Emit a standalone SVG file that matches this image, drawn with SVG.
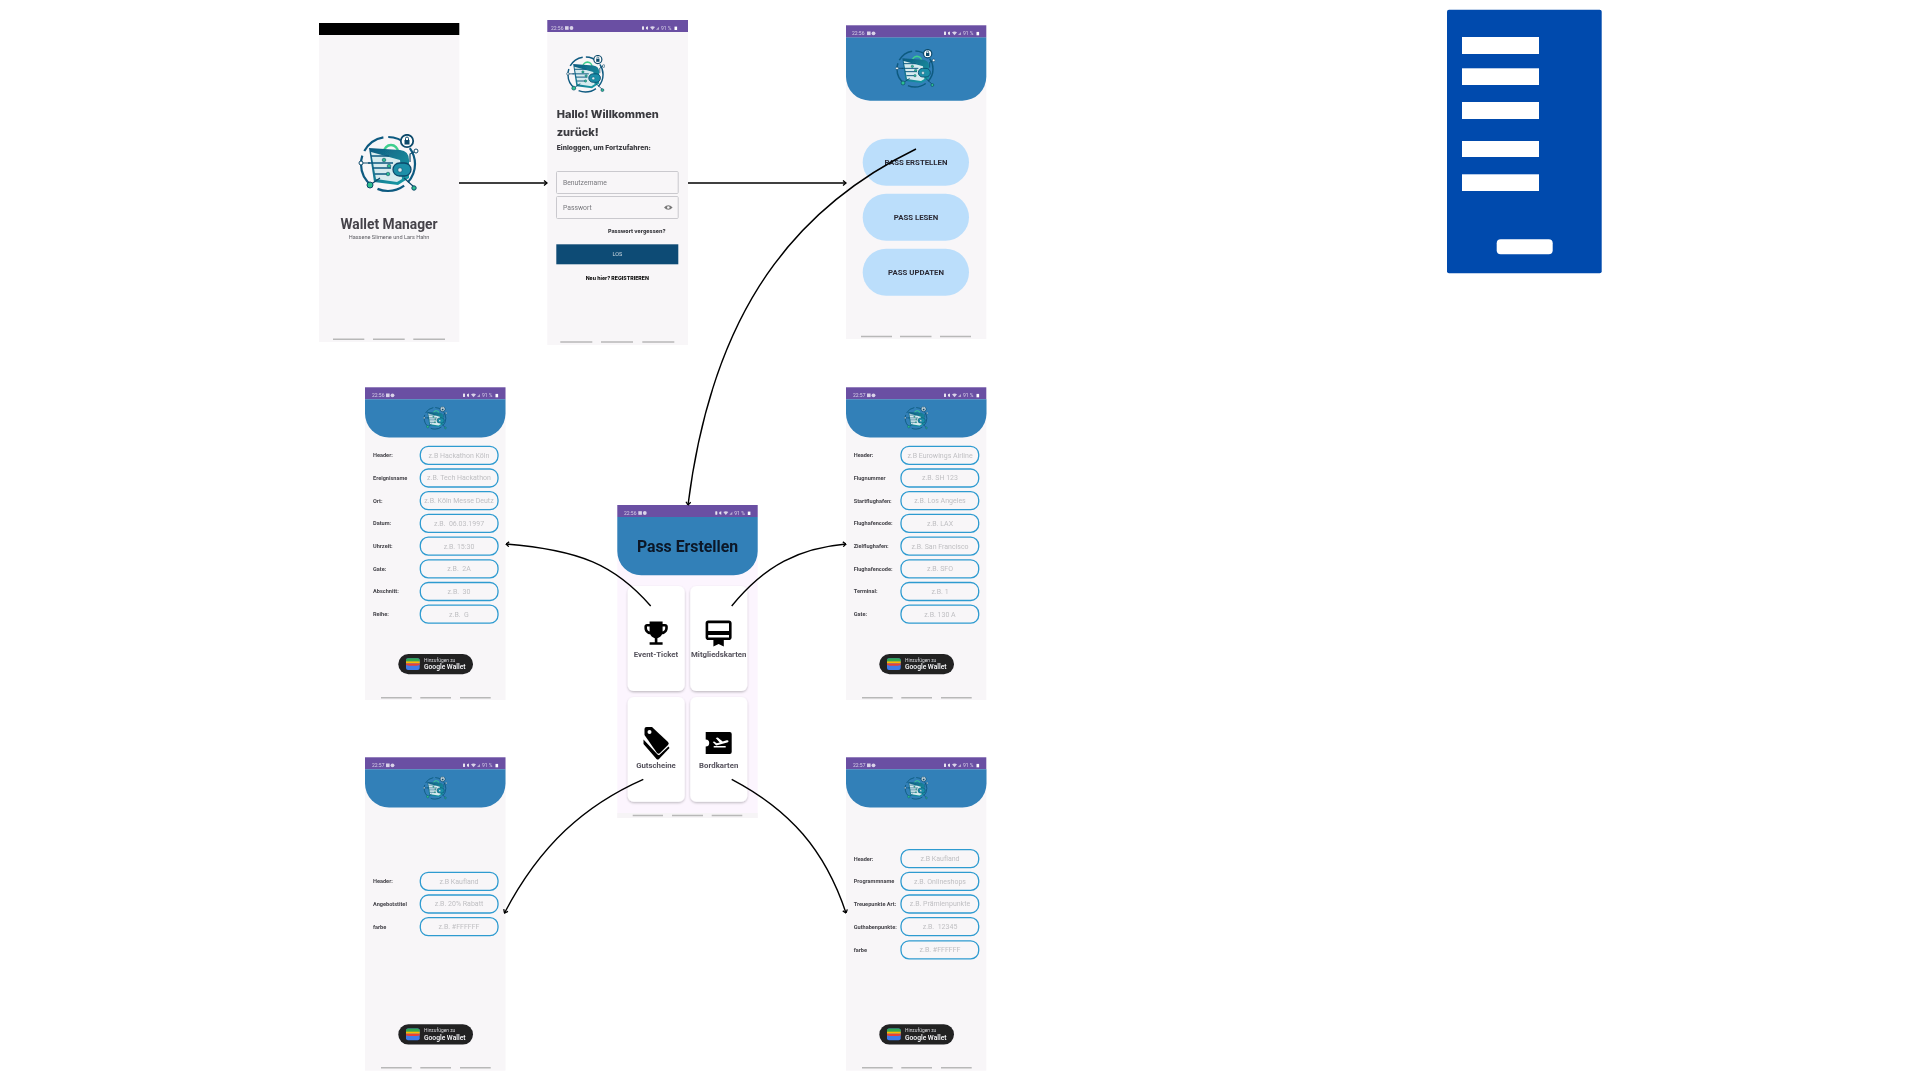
<svg xmlns="http://www.w3.org/2000/svg" xmlns:xlink="http://www.w3.org/1999/xlink" width="1920" height="1080" viewBox="0 0 1920 1080">
<style>
text{font-family:Roboto,"Liberation Sans",sans-serif}
.soft{filter:url(#soft)}
.bg{fill:#f8f6f8}
.nav{stroke:#b8b8b8;stroke-width:1.5;fill:none}
.bar{fill:#6a4fa3}
.hd{fill:#3180b8}
.st{font-size:5px;fill:#d9d2e8}
.inp{fill:#f8f6f8;stroke:#2e9bd0;stroke-width:1.3}
.ph{font-size:7px;fill:#bfbfc2;text-anchor:middle}
.lb{font-size:5.6px;font-weight:700;fill:#45444a}
.btn{fill:#bbdefb}
.bt{font-size:7.800px;font-weight:700;fill:#2b2b36;text-anchor:middle}
.head{font-family:Inter,Roboto,sans-serif;font-weight:800;fill:#3a3a3f}
.card{fill:#fff;filter:url(#sh)}
.cl{font-size:7.800px;font-weight:700;fill:#55525c;text-anchor:middle}
.wf{fill:#fff}
.field{fill:#f8f6f8;stroke:#c4c4c8;stroke-width:.9}
.con{fill:none;stroke:#000;stroke-width:1.4;marker-end:url(#arr)}
</style>
<defs>
<filter id="soft" x="-2%" y="-2%" width="104%" height="104%"><feGaussianBlur stdDeviation=".35"/></filter>
<filter id="sh" x="-20%" y="-20%" width="140%" height="140%"><feDropShadow dx="0" dy="1.2" stdDeviation="1.2" flood-color="#000" flood-opacity=".25"/></filter>
<marker id="arr" viewBox="0 0 6 6" refX="5.500" refY="3" markerWidth="6" markerHeight="6" markerUnits="userSpaceOnUse" orient="auto"><path d="M2.500 .6 L5.500 3 L2.500 5.400" fill="none" stroke="#000" stroke-width="1.300"/></marker>
<linearGradient id="teal" x1="0" y1="0" x2="1" y2="1"><stop offset="0" stop-color="#0f5a80"/><stop offset="1" stop-color="#18a0a8"/></linearGradient>
<symbol id="logo" viewBox="0 0 60 60">
<circle cx="30" cy="30" r="27" fill="none" stroke="#0f5a80" stroke-width="2.200" stroke-dasharray="20 5 28 6 34 5 24 5"/>
<path d="M26 18 a7 7 0 0 1 14 0" fill="none" stroke="#3ecf8e" stroke-width="2.400"/>
<path d="M11 14 L42 16 Q51 17 51 26 L51 44 L40 51 L16 48 Z" fill="url(#teal)"/>
<path d="M13 18 L42 26 L44 45 L39 48 L18 45 Z" fill="#d6ebee"/>
<path d="M13 22 H31 M10 29 H35 M15 34 H33 M17 40 H31" stroke="#0d5a80" stroke-width="1.500" fill="none"/>
<rect x="35" y="29" width="18" height="13" rx="6.500" fill="#1a8fa8" stroke="#0d4a6b" stroke-width="1.300"/>
<circle cx="42" cy="36" r="2.200" fill="#d6ebee" stroke="#0d4a6b" stroke-width=".6"/>
<circle cx="49" cy="7" r="6.200" fill="#fff" stroke="#0d4a6b" stroke-width="1.800"/>
<rect x="46.500" y="6" width="5" height="4.500" fill="#0d4a6b"/>
<path d="M47.500 6 V4.500 a1.500 1.500 0 0 1 3 0 V6" fill="none" stroke="#0d4a6b"/>
<path d="M3 29 H12 M12 51 L22 44 M56 53 L46 44 M58 17 L52 20 V28" stroke="#0d4a6b" stroke-width="1.200" fill="none"/>
<circle cx="12" cy="51" r="3" fill="#2fbf8f" stroke="#0d4a6b"/><circle cx="56" cy="54" r="2.200" fill="#2fbf8f" stroke="#0d4a6b"/><circle cx="58" cy="17" r="2" fill="#fff" stroke="#0d4a6b"/><circle cx="3" cy="29" r="2" fill="#fff" stroke="#0d4a6b"/>
<circle cx="26" cy="26" r="1.800" fill="#2fbf8f" stroke="#0d4a6b" stroke-width=".6"/><circle cx="31" cy="32" r="1.800" fill="#2fbf8f" stroke="#0d4a6b" stroke-width=".6"/><circle cx="30" cy="40" r="1.800" fill="#2fbf8f" stroke="#0d4a6b" stroke-width=".6"/>
</symbol>
<g id="sicons">
<rect x="21" y="-3.800" width="3.600" height="3.600" fill="#d9d2e8"/><circle cx="27.500" cy="-2" r="1.900" fill="#d9d2e8"/>
<rect x="98" y="-3.800" width="2" height="3.600" rx=".6" fill="#e8e4f0"/><path d="M102 -3 l2 -.8 v3.600 l-2 -.8 z" fill="#e8e4f0"/><path d="M106 -3 q2.500 -1.500 5 0 l-2.500 3 z" fill="#d9d2e8"/><path d="M112 -.2 l3 -3 v3 z" fill="#b8acd2"/>
<text class="st" x="117" y="0">91 %</text>
<rect x="130.500" y="-3.400" width="2.600" height="3.400" fill="#ffffff"/>
</g>
<path id="header" class="hd" d="M0 12 H140.500 V26.300 A24 24 0 0 1 116.500 50.300 H24 A24 24 0 0 1 0 26.300 Z"/>
<g id="wallet">
<rect x="0" y="0" width="74.700" height="20.300" rx="10.100" fill="#202124"/>
<rect x="7.700" y="4.300" width="13.700" height="11.700" rx="2" fill="#3f7be8"/>
<path d="M7.700 6.300 a2 2 0 0 1 2 -2 h9.700 a2 2 0 0 1 2 2 v1.500 h-13.700 z" fill="#34a853"/>
<rect x="7.700" y="7.400" width="13.700" height="2" fill="#fbbc04"/>
<path d="M7.700 9.400 h13.700 v1.700 l-3 .6 h-7.500 l-3.200 -.6 z" fill="#ea4335"/>
<text x="25.700" y="7.800" font-size="4.900" fill="#d8d8d8">Hinzufügen zu</text>
<text x="25.700" y="15.400" font-size="6.700" font-weight="500" fill="#fff">Google Wallet</text>
</g>
<g id="navF">
<path class="nav" d="M16 310.400 H46.700 M55.300 310.400 H86 M95 310.400 H125.700"/>
</g>
<path id="trophy" d="M19 5h-2V3H7v2H5c-1.100 0-2 .9-2 2v1c0 2.550 1.920 4.630 4.390 4.940.63 1.500 1.980 2.630 3.610 2.960V19H7v2h10v-2h-4v-3.100c1.630-.33 2.980-1.460 3.610-2.960C19.080 12.630 21 10.550 21 8V7c0-1.100-.9-2-2-2zM5 8V7h2v3.820C5.840 10.400 5 9.300 5 8zm14 0c0 1.300-.84 2.400-2 2.820V7h2v1z"/>
<path id="member" d="M20 2H4c-1.110 0-2 .89-2 2v11c0 1.110.89 2 2 2h4v5l4-2 4 2v-5h4c1.110 0 2-.89 2-2V4c0-1.110-.89-2-2-2zm0 13H4v-2h16v2zm0-5H4V4h16v6z"/>
</defs>

<g id="phone-splash" class="soft">
<rect class="bg" x="319" y="23" width="140.300" height="319"/>
<rect x="319" y="23" width="140.300" height="12" fill="#000"/>
<use href="#logo" x="357" y="134" width="62" height="60"/>
<text x="389" y="229" text-anchor="middle" font-size="13.800" font-weight="700" fill="#45434a">Wallet Manager</text>
<text x="389" y="238.700" text-anchor="middle" font-size="5.600" fill="#5c5c62">Hassene Slimene und Lars Hahn</text>
<path class="nav" d="M333 339.300 H364.300 M373 339.300 H404.700 M413.300 339.300 H445"/>
</g>

<g id="phone-login" class="soft">
<rect class="bg" x="547.300" y="20" width="140.700" height="325"/>
<rect class="bar" x="547.300" y="20" width="140.700" height="12"/>
<text class="st" x="551" y="30">22:56</text>
<use href="#sicons" x="544" y="30"/>
<use href="#logo" x="566" y="55" width="39" height="39"/>
<text class="head" x="556.700" y="118" font-size="11">Hallo! Willkommen</text>
<text class="head" x="556.700" y="136" font-size="11">zurück!</text>
<text class="head" x="556.700" y="149.700" font-size="6.700">Einloggen, um Fortzufahren:</text>
<rect class="field" x="556.500" y="171.500" width="121.700" height="22" rx="1"/>
<rect class="field" x="556.500" y="196.500" width="121.700" height="22" rx="1"/>
<text x="563" y="184.800" font-size="6.800" fill="#77777c">Benutzername</text>
<text x="563" y="209.800" font-size="6.800" fill="#77777c">Passwort</text>
<path d="M664 207.500 q4.300 -4.500 8.600 0 q-4.300 4.500 -8.600 0 z" fill="#777"/><circle cx="668.300" cy="207.500" r="1.300" fill="#f8f6f8"/>
<text class="head" x="608" y="232.700" font-size="5.400">Passwort vergessen?</text>
<rect x="556.300" y="244.300" width="122" height="20" fill="#0f4c75"/>
<text x="617.300" y="256.300" text-anchor="middle" font-size="5.500" fill="#c9d6e0">LOS</text>
<text class="head" x="617.300" y="279.500" text-anchor="middle" font-size="5.200" style="fill:#111">Neu hier? REGISTRIEREN</text>
<path class="nav" d="M560.300 342 H592.300 M601 342 H633 M642.300 342 H674.300"/>
</g>

<g id="phone-menu" class="soft">
<rect class="bg" x="846" y="25.300" width="140.300" height="313.700"/>
<path class="hd" d="M846 37.300 H986.300 V76.700 A24 24 0 0 1 962.300 100.700 H870 A24 24 0 0 1 846 76.700 Z"/>
<rect class="bar" x="846" y="25.300" width="140.300" height="12"/>
<text class="st" x="852" y="35.300">22:56</text>
<use href="#sicons" x="846" y="35.300"/>
<use href="#logo" x="895" y="49" width="40" height="40"/>
<rect class="btn" x="862.700" y="138.700" width="106.300" height="47" rx="23.500"/>
<rect class="btn" x="862.700" y="193.700" width="106.300" height="47" rx="23.500"/>
<rect class="btn" x="862.700" y="248.700" width="106.300" height="47" rx="23.500"/>
<text class="bt" x="916" y="165">PASS ERSTELLEN</text>
<text class="bt" x="916" y="220">PASS LESEN</text>
<text class="bt" x="916" y="275">PASS UPDATEN</text>
<path class="nav" d="M861 336.500 H892 M900 336.500 H931.500 M940 336.500 H971"/>
</g>

<g id="phone-event" class="soft" transform="translate(365 387.300)">
<rect class="bg" width="140.500" height="312.700"/>
<rect class="bar" width="140.500" height="12"/>
<text class="st" x="7" y="10">22:56</text>
<use href="#sicons" y="10"/>
<use href="#header"/>
<use href="#logo" x="58" y="19" width="24" height="24"/>
<rect class="inp" x="55.300" y="59" width="77.700" height="18" rx="8"/>
<rect class="inp" x="55.300" y="81.700" width="77.700" height="18" rx="8"/>
<rect class="inp" x="55.300" y="104.400" width="77.700" height="18" rx="8"/>
<rect class="inp" x="55.300" y="127.100" width="77.700" height="18" rx="8"/>
<rect class="inp" x="55.300" y="149.800" width="77.700" height="18" rx="8"/>
<rect class="inp" x="55.300" y="172.500" width="77.700" height="18" rx="8"/>
<rect class="inp" x="55.300" y="195.200" width="77.700" height="18" rx="8"/>
<rect class="inp" x="55.300" y="217.900" width="77.700" height="18" rx="8"/>
<text class="lb" x="8" y="70">Header:</text><text class="ph" x="94" y="70.500">z.B Hackathon Köln</text>
<text class="lb" x="8" y="92.700">Ereignisname</text><text class="ph" x="94" y="93.200">z.B. Tech Hackathon</text>
<text class="lb" x="8" y="115.400">Ort:</text><text class="ph" x="94" y="115.900">z.B. Köln Messe Deutz</text>
<text class="lb" x="8" y="138.100">Datum:</text><text class="ph" x="94" y="138.600" xml:space="preserve">z.B.  06.03.1997</text>
<text class="lb" x="8" y="160.800">Uhrzeit:</text><text class="ph" x="94" y="161.300">z.B. 15:30</text>
<text class="lb" x="8" y="183.500">Gate:</text><text class="ph" x="94" y="184" xml:space="preserve">z.B.  2A</text>
<text class="lb" x="8" y="206.200">Abschnitt:</text><text class="ph" x="94" y="206.700" xml:space="preserve">z.B.  30</text>
<text class="lb" x="8" y="228.900">Reihe:</text><text class="ph" x="94" y="229.400" xml:space="preserve">z.B.  G</text>
<use href="#wallet" x="33.300" y="266.700"/>
<use href="#navF"/>
</g>

<g id="phone-boarding" class="soft" transform="translate(846 387.300)">
<rect class="bg" width="140.300" height="312.700"/>
<rect class="bar" width="140.300" height="12"/>
<text class="st" x="7" y="10">22:57</text>
<use href="#sicons" y="10"/>
<use href="#header"/>
<use href="#logo" x="58" y="19" width="24" height="24"/>
<rect class="inp" x="55" y="59" width="77.700" height="18" rx="8"/>
<rect class="inp" x="55" y="81.700" width="77.700" height="18" rx="8"/>
<rect class="inp" x="55" y="104.400" width="77.700" height="18" rx="8"/>
<rect class="inp" x="55" y="127.100" width="77.700" height="18" rx="8"/>
<rect class="inp" x="55" y="149.800" width="77.700" height="18" rx="8"/>
<rect class="inp" x="55" y="172.500" width="77.700" height="18" rx="8"/>
<rect class="inp" x="55" y="195.200" width="77.700" height="18" rx="8"/>
<rect class="inp" x="55" y="217.900" width="77.700" height="18" rx="8"/>
<text class="lb" x="7.700" y="70">Header:</text><text class="ph" x="94" y="70.500">z.B Eurowings Airline</text>
<text class="lb" x="7.700" y="92.700">Flugnummer</text><text class="ph" x="94" y="93.200">z.B. SH 123</text>
<text class="lb" x="7.700" y="115.400">Startflughafen:</text><text class="ph" x="94" y="115.900">z.B. Los Angeles</text>
<text class="lb" x="7.700" y="138.100">Flughafencode:</text><text class="ph" x="94" y="138.600">z.B. LAX</text>
<text class="lb" x="7.700" y="160.800">Zielflughafen:</text><text class="ph" x="94" y="161.300">z.B. San Francisco</text>
<text class="lb" x="7.700" y="183.500">Flughafencode:</text><text class="ph" x="94" y="184">z.B. SFO</text>
<text class="lb" x="7.700" y="206.200">Terminal:</text><text class="ph" x="94" y="206.700">z.B. 1</text>
<text class="lb" x="7.700" y="228.900">Gate:</text><text class="ph" x="94" y="229.400">z.B. 130 A</text>
<use href="#wallet" x="33.300" y="266.700"/>
<use href="#navF"/>
</g>

<g id="phone-create" class="soft">
<rect x="617.300" y="505" width="140.400" height="313" fill="#fcf5fe"/>
<rect x="617.300" y="813" width="140.400" height="5" fill="#f6f4f6"/>
<path class="hd" d="M617.300 517 H757.700 V551.300 A24 24 0 0 1 733.700 575.300 H641.300 A24 24 0 0 1 617.300 551.300 Z"/>
<rect class="bar" x="617.300" y="505" width="140.400" height="12"/>
<text class="st" x="624" y="515">22:56</text>
<use href="#sicons" x="617.300" y="515"/>
<text x="687.500" y="552" text-anchor="middle" font-size="15.800" font-weight="700" fill="#0a1626">Pass Erstellen</text>
<rect class="card" x="627.700" y="586" width="57" height="105" rx="6"/>
<rect class="card" x="690.300" y="586" width="57" height="105" rx="6"/>
<rect class="card" x="627.700" y="697" width="57" height="104.700" rx="6"/>
<rect class="card" x="690.300" y="697" width="57" height="104.700" rx="6"/>
<use href="#trophy" transform="translate(640.500 617.500) scale(1.300)"/>
<use href="#member" transform="translate(703 618) scale(1.300)"/>
<g transform="translate(656 743)">
<path d="M-11.500 -8 L-11.500 -14 Q-11.500 -16 -9.500 -16 L-4 -16 L12 -1 Q13.500 .5 12 2 L4 10 Q2.500 11.500 1 10 Z" fill="#000"/>
<circle cx="-6.500" cy="-11" r="2" fill="#fff"/>
<path d="M-12.500 -3.500 L1.500 11.500 L3 12.200 L12.500 3.500 L13.500 5 L3 16 Q1.800 17 .5 16 L-12.500 1 Z" fill="#000"/>
</g>
<g transform="translate(718.700 743)">
<path d="M-13 -11 H11 Q13 -11 13 -9 V9 Q13 11 11 11 H-13 V3.500 A3.500 3.500 0 0 0 -13 -3.500 Z" fill="#000"/>
<path d="M-5 3 L7 3 V4.600 H-5 Z M-6 -1 L-4.500 -1.500 L-2 .3 L1 -.6 L-3 -5 L-1 -5.500 L4 -1.500 L8 -2.700 Q9.500 -3 9.800 -2 Q10 -1 8.500 -.4 L-2.500 2.500 Z" fill="#fff"/>
</g>
<text class="cl" x="656" y="657">Event-Ticket</text>
<text class="cl" x="718.700" y="657">Mitgliedskarten</text>
<text class="cl" x="656" y="768">Gutscheine</text>
<text class="cl" x="718.700" y="768">Bordkarten</text>
<path class="nav" d="M632.700 815.500 H663 M672 815.500 H703 M711.700 815.500 H742.300"/>
</g>

<g id="phone-voucher" class="soft" transform="translate(365 757.300)">
<rect class="bg" width="140.500" height="313.400"/>
<rect class="bar" width="140.500" height="12"/>
<text class="st" x="7" y="10">22:57</text>
<use href="#sicons" y="10"/>
<use href="#header"/>
<use href="#logo" x="58" y="19" width="24" height="24"/>
<rect class="inp" x="55.300" y="115" width="77.700" height="18" rx="8"/>
<rect class="inp" x="55.300" y="137.700" width="77.700" height="18" rx="8"/>
<rect class="inp" x="55.300" y="160.400" width="77.700" height="18" rx="8"/>
<text class="lb" x="8" y="126">Header:</text><text class="ph" x="94" y="126.500">z.B Kaufland</text>
<text class="lb" x="8" y="148.700">Angebotstitel</text><text class="ph" x="94" y="149.200">z.B. 20% Rabatt</text>
<text class="lb" x="8" y="171.400">farbe</text><text class="ph" x="94" y="171.900">z.B. #FFFFFF</text>
<use href="#wallet" x="33.300" y="267"/>
<use href="#navF"/>
</g>

<g id="phone-loyalty" class="soft" transform="translate(846 757.300)">
<rect class="bg" width="140.300" height="313.400"/>
<rect class="bar" width="140.300" height="12"/>
<text class="st" x="7" y="10">22:57</text>
<use href="#sicons" y="10"/>
<use href="#header"/>
<use href="#logo" x="58" y="19" width="24" height="24"/>
<rect class="inp" x="55" y="92.400" width="77.700" height="18" rx="8"/>
<rect class="inp" x="55" y="115" width="77.700" height="18" rx="8"/>
<rect class="inp" x="55" y="137.700" width="77.700" height="18" rx="8"/>
<rect class="inp" x="55" y="160.400" width="77.700" height="18" rx="8"/>
<rect class="inp" x="55" y="183.500" width="77.700" height="18" rx="8"/>
<text class="lb" x="7.700" y="103.400">Header:</text><text class="ph" x="94" y="103.900">z.B Kaufland</text>
<text class="lb" x="7.700" y="126">Programmname</text><text class="ph" x="94" y="126.500">z.B. Onlineshops</text>
<text class="lb" x="7.700" y="148.700">Treuepunkte Art:</text><text class="ph" x="94" y="149.200">z.B. Prämienpunkte</text>
<text class="lb" x="7.700" y="171.400">Guthabenpunkte:</text><text class="ph" x="94" y="171.900" xml:space="preserve">z.B.  12345</text>
<text class="lb" x="7.700" y="194.500">farbe</text><text class="ph" x="94" y="195">z.B. #FFFFFF</text>
<use href="#wallet" x="33.300" y="267"/>
<use href="#navF"/>
</g>

<g id="form-wireframe">
<rect x="1447" y="9.700" width="154.700" height="263.600" rx="2" fill="#004aad"/>
<rect class="wf" x="1462" y="37" width="77" height="17"/>
<rect class="wf" x="1462" y="68.300" width="77" height="16.700"/>
<rect class="wf" x="1462" y="102" width="77" height="17"/>
<rect class="wf" x="1462" y="141" width="77" height="16"/>
<rect class="wf" x="1462" y="174.300" width="77" height="16.700"/>
<rect class="wf" x="1496.700" y="239.300" width="56" height="15" rx="4"/>
</g>

<g id="connectors">
<path class="con" d="M459 183 H547"/>
<path class="con" d="M688 183 H846"/>
<path class="con" d="M916 149 C780 215 710 330 688 505"/>
<path class="con" d="M650.700 606 C615 565 580 550 506 544"/>
<path class="con" d="M731.700 606 C765 565 800 548 846 544"/>
<path class="con" d="M643.300 779.300 C585 805 540 845 504.500 913"/>
<path class="con" d="M731.700 779.300 C790 810 825 850 846 913"/>
</g>
</svg>
